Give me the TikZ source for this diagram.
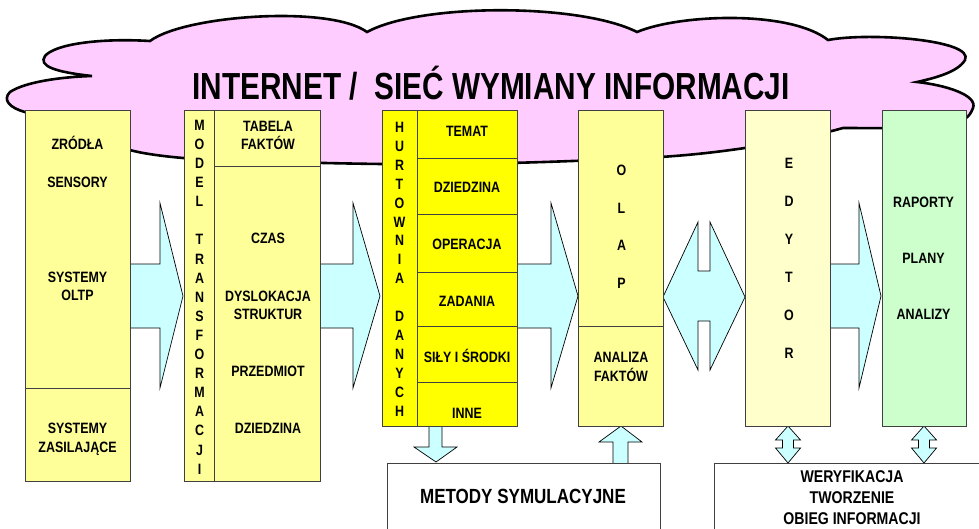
\documentclass[tikz,border=0pt]{standalone}
\usepackage{fontspec}
\setmainfont{Liberation Sans}
\newfontfamily\nf[FakeStretch=0.83]{Liberation Sans}
\newfontfamily\tf[FakeStretch=0.79]{Liberation Sans}
\definecolor{pinkc}{HTML}{FFCCFF}
\definecolor{ylight}{HTML}{FFFF99}
\definecolor{ybright}{HTML}{FFFF00}
\definecolor{ypale}{HTML}{FFFFCC}
\definecolor{gpale}{HTML}{CCFFCC}
\definecolor{cyanc}{HTML}{CCFFFF}
\begin{document}
\begin{tikzpicture}[x=1pt,y=-1pt,
  box/.style={draw=black!75,line width=0.8pt,anchor=north west,inner sep=0pt},
  divl/.style={draw=black!75,line width=0.8pt},
  barrow/.style={draw=black,line width=0.7pt,fill=cyanc,line join=miter},
  cloudst/.style={draw=black,line width=2.6pt,fill=pinkc},
  lbl/.style={font=\nf\bfseries\fontsize{15}{18}\selectfont,inner sep=0pt,text height=10.7pt,text depth=0pt},
  big/.style={font=\nf\bfseries\fontsize{20.5}{24}\selectfont,inner sep=0pt,text height=14.7pt,text depth=0pt},
  mid/.style={font=\nf\bfseries\fontsize{17}{20}\selectfont,inner sep=0pt,text height=12.2pt,text depth=0pt},
  ttl/.style={font=\tf\bfseries\fontsize{37.7}{42}\selectfont,inner sep=0pt,text height=27pt,text depth=0pt}]
\path[use as bounding box] (0,0) rectangle (979,528);
\clip (0,0) rectangle (979,528);
% cloud
\draw[cloudst] (25,112)
 .. controls (10,108) and (2,100) .. (10,92)
 .. controls (25,82) and (60,77) .. (92,76)
 .. controls (55,72) and (38,66) .. (45,56)
 .. controls (55,44) and (100,38) .. (150,41)
 .. controls (185,15) and (330,5) .. (367,32)
 .. controls (420,3) and (580,3) .. (637,32)
 .. controls (680,14) and (790,10) .. (828,40)
 .. controls (870,32) and (975,40) .. (965,60)
 .. controls (958,72) and (935,78) .. (917,82)
 .. controls (945,85) and (978,95) .. (973,108)
 .. controls (971,113) and (969,116) .. (966,118)
 .. controls (940,130) and (890,128) .. (843,128)
 .. controls (800,140) and (720,155) .. (640,158)
 .. controls (540,163) and (450,165) .. (382,164)
 .. controls (300,163) and (220,160) .. (183,158)
 .. controls (160,156) and (140,153) .. (130,150)
 .. controls (90,140) and (45,128) .. (25,112) -- cycle;
\node[ttl] (title) at (491,85.5) {INTERNET / \ SIEĆ WYMIANY INFORMACJI};
% block arrows
\draw[barrow] (128,264) -- (160,264) -- (160,203) -- (183,296) -- (160,388) -- (160,328) -- (128,328) -- cycle;
\draw[barrow] (318,264) -- (353,264) -- (353,203) -- (380,296) -- (353,388) -- (353,328) -- (318,328) -- cycle;
\draw[barrow] (515,264) -- (551,264) -- (551,203) -- (578,296) -- (551,388) -- (551,328) -- (515,328) -- cycle;
\draw[barrow] (828,264) -- (859,264) -- (859,203) -- (881,296) -- (859,388) -- (859,328) -- (828,328) -- cycle;
\draw[barrow] (663,297) -- (698,222) -- (698,271) -- (710,271) -- (710,222) -- (745,297) -- (710,370) -- (710,321) -- (698,321) -- (698,370) -- cycle;
\draw[barrow] (429,424) -- (442,424) -- (442,447) -- (457,447) -- (436,462) -- (414,447) -- (429,447) -- cycle;
\draw[barrow] (613,465) -- (613,442) -- (599,442) -- (621,426) -- (642,442) -- (628,442) -- (628,465) -- cycle;
\draw[barrow] (788,426) -- (800.5,440) -- (793.5,440) -- (793.5,448) -- (800.5,448) -- (788,463) -- (775.5,448) -- (782.5,448) -- (782.5,440) -- (775.5,440) -- cycle;
\draw[barrow] (924,426) -- (936.5,440) -- (929.5,440) -- (929.5,448) -- (936.5,448) -- (924,463) -- (911.5,448) -- (918.5,448) -- (918.5,440) -- (911.5,440) -- cycle;
% boxes
\node[box,fill=ylight,minimum width=105pt,minimum height=371pt] (src) at (25,110) {};
\draw[divl] (25,388) -- (130,388);
\node[box,fill=ylight,minimum width=136pt,minimum height=371pt] (trans) at (184,110) {};
\draw[divl] (214,110) -- (214,481);
\draw[divl] (214,166) -- (320,166);
\node[box,fill=ybright,minimum width=135pt,minimum height=316pt] (hurt) at (382,110) {};
\draw[divl] (417,110) -- (417,426);
\foreach \yy in {158,214,272,326,382} \draw[divl] (417,\yy) -- (517,\yy);
\node[box,fill=ylight,minimum width=85pt,minimum height=316pt] (olap) at (578,110) {};
\draw[divl] (578,326) -- (663,326);
\node[box,fill=ypale,minimum width=85pt,minimum height=316pt] (edyt) at (745,110) {};
\node[box,fill=gpale,minimum width=84pt,minimum height=316pt] (rap) at (882,110) {};
\node[box,fill=white,minimum width=273pt,minimum height=90pt] (metody) at (387,463) {};
\node[box,fill=white,minimum width=280pt,minimum height=90pt] (weryf) at (714,463) {};
% texts box 1
\node[lbl] (t1a) at (77.5,144) {ZRÓDŁA};
\node[lbl] (t1b) at (77.5,182) {SENSORY};
\node[lbl] (t1c) at (77.5,277) {SYSTEMY};
\node[lbl] (t1d) at (77.5,295) {OLTP};
\node[lbl] (t1e) at (77.5,428) {SYSTEMY};
\node[lbl] (t1f) at (77.5,447) {ZASILAJĄCE};
% box 2
\foreach \l [count=\i from 0] in {M,O,D,E,L,{},T,R,A,N,S,F,O,R,M,A,C,J,I}
  \node[lbl] (mt\i) at (199.5,{125+19.1*\i}) {\l};
\node[lbl] (t2a) at (268,126) {TABELA};
\node[lbl] (t2b) at (268,144) {FAKTÓW};
\node[lbl] (t2c) at (268,238) {CZAS};
\node[lbl] (t2d) at (268,296) {DYSLOKACJA};
\node[lbl] (t2e) at (268,314) {STRUKTUR};
\node[lbl] (t2f) at (268,371) {PRZEDMIOT};
\node[lbl] (t2g) at (268,428) {DZIEDZINA};
% box 3
\foreach \l [count=\i from 0] in {H,U,R,T,O,W,N,I,A,{},D,A,N,Y,C,H}
  \node[lbl] (hd\i) at (399.5,{127+18.93*\i}) {\l};
\node[lbl] (t3a) at (467,131) {TEMAT};
\node[lbl] (t3b) at (467,187) {DZIEDZINA};
\node[lbl] (t3c) at (467,244) {OPERACJA};
\node[lbl] (t3d) at (467,301) {ZADANIA};
\node[lbl] (t3e) at (467,357) {SIŁY I ŚRODKI};
\node[lbl] (t3f) at (467,413) {INNE};
% OLAP
\foreach \l [count=\i from 0] in {O,L,A,P}
  \node[lbl] (ol\i) at (621.5,{170+37.7*\i}) {\l};
\node[lbl] (t4a) at (621,357) {ANALIZA};
\node[lbl] (t4b) at (621,376) {FAKTÓW};
% EDYTOR
\foreach \l [count=\i from 0] in {E,D,Y,T,O,R}
  \node[lbl] (ed\i) at (789,{163+38*\i}) {\l};
% RAPORTY
\node[lbl] (t5a) at (923.5,202) {RAPORTY};
\node[lbl] (t5b) at (923.5,258) {PLANY};
\node[lbl] (t5c) at (923.5,314) {ANALIZY};
% bottom boxes
\node[big] (t6) at (523,496) {METODY SYMULACYJNE};
\node[mid] (t7a) at (852,476) {WERYFIKACJA};
\node[mid] (t7b) at (852,497) {TWORZENIE};
\node[mid] (t7c) at (852,518) {OBIEG INFORMACJI};
\end{tikzpicture}
\end{document}
